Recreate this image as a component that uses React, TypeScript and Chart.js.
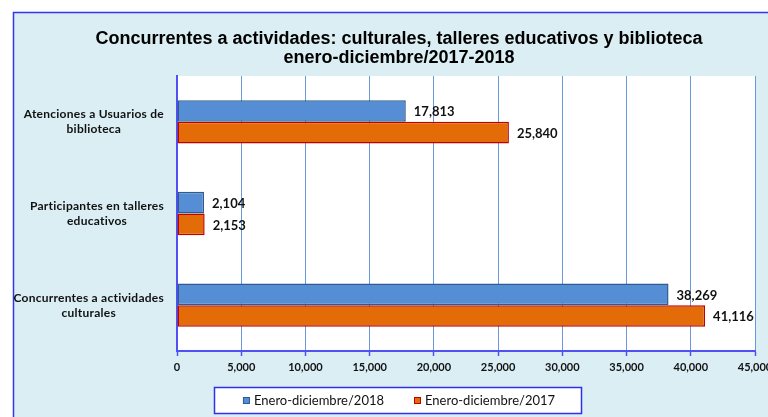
import { useEffect, useRef } from "react";
import { Chart, registerables } from "chart.js";

Chart.register(...registerables);

const titleLines = [
  "Concurrentes a actividades: culturales, talleres educativos y biblioteca",
  "enero-diciembre/2017-2018",
];
const categories = [
  ["Atenciones a Usuarios de", "biblioteca"],
  ["Participantes en talleres", "educativos"],
  ["Concurrentes a actividades", "culturales"],
];
const seriesNames = ["Enero-diciembre/2018", "Enero-diciembre/2017"];
const values2018 = [17813, 2104, 38269];
const values2017 = [25840, 2153, 41116];
const xMin = 0;
const xMax = 45000;
const xStep = 5000;

const W = 768;
const H = 417;
const BLUE = "#558ED5";
const BLUE_BORDER = "#2E5C8F";
const ORANGE = "#E36C09";
const ORANGE_BORDER = "#C00000";
const AXIS = "#5050F5";

const fmt = (v: number) => v.toLocaleString("en-US");

const decor = {
  id: "decor",
  beforeDraw(chart: any) {
    const { ctx, chartArea: a } = chart;
    ctx.save();
    ctx.fillStyle = "#ffffff";
    ctx.fillRect(0, 0, W, H);
    ctx.fillStyle = "#DAEEF3";
    ctx.fillRect(13, 12, W - 13, H - 12);
    ctx.strokeStyle = "#3535F0";
    ctx.lineWidth = 1.5;
    ctx.beginPath();
    ctx.moveTo(13.5, H);
    ctx.lineTo(13.5, 12.5);
    ctx.lineTo(W, 12.5);
    ctx.stroke();
    ctx.fillStyle = "#ffffff";
    ctx.fillRect(a.left, a.top, a.right - a.left, a.bottom - a.top);
    ctx.restore();
  },
  afterDatasetsDraw(chart: any) {
    const { ctx } = chart;
    ctx.save();
    ctx.font = 'bold 13px "Lato"';
    ctx.fillStyle = "#111111";
    ctx.textAlign = "left";
    ctx.textBaseline = "middle";
    chart.data.datasets.forEach((ds: any, di: number) => {
      const meta = chart.getDatasetMeta(di);
      meta.data.forEach((el: any, i: number) => {
        ctx.fillText(fmt(ds.data[i]), el.x + 8, el.y + 1);
      });
    });
    ctx.restore();
  },
  afterDraw(chart: any) {
    const { ctx } = chart;
    ctx.save();
    // title
    ctx.font = 'bold 18px "Liberation Sans"';
    ctx.fillStyle = "#000000";
    ctx.textAlign = "center";
    ctx.textBaseline = "alphabetic";
    ctx.fillText(titleLines[0], 399, 44);
    ctx.fillText(titleLines[1], 399, 63);

    // category labels
    const ys = chart.scales.y;
    ctx.font = 'bold 12px "Lato"';
    try {
      (ctx as any).letterSpacing = "0.25px";
    } catch (e) {}
    ctx.textBaseline = "middle";
    ctx.fillStyle = "#111111";
    categories.forEach((lines, i) => {
      const cy = ys.getPixelForValue(i);
      const bw = Math.max(...lines.map((l) => ctx.measureText(l).width));
      const cx = 164 - bw / 2;
      const lh = 15;
      lines.forEach((l, k) => {
        ctx.fillText(l, cx, cy + (k - (lines.length - 1) / 2) * lh);
      });
    });
    try {
      (ctx as any).letterSpacing = "0px";
    } catch (e) {}

    // legend
    const bx = 214.5, by = 387.5, bw = 367, bh = 26;
    ctx.fillStyle = "#ffffff";
    ctx.fillRect(bx, by, bw, bh);
    ctx.strokeStyle = "#2F2FF0";
    ctx.lineWidth = 1.5;
    ctx.strokeRect(bx, by, bw, bh);
    ctx.font = '13px "Lato"';
    ctx.textAlign = "left";
    const cy = by + bh / 2 + 0.5;
    const fills = [BLUE, ORANGE];
    const borders = [BLUE_BORDER, ORANGE_BORDER];
    const w0 = ctx.measureText(seriesNames[0]).width;
    const w1 = ctx.measureText(seriesNames[1]).width;
    const gap = 30;
    const total = 7 + 4 + w0 + gap + 7 + 4 + w1;
    let x = bx + bw / 2 - total / 2 + 1;
    [w0, w1].forEach((w, i) => {
      ctx.fillStyle = fills[i];
      ctx.fillRect(x, cy - 4, 7, 7);
      ctx.strokeStyle = borders[i];
      ctx.lineWidth = 1;
      ctx.strokeRect(x + 0.5, cy - 3.5, 6, 6);
      ctx.fillStyle = "#111111";
      ctx.fillText(seriesNames[i], x + 11, cy);
      x += 11 + w + gap;
    });
    ctx.restore();
  },
};

export default function App() {
  const ref = useRef<HTMLCanvasElement | null>(null);
  useEffect(() => {
    if (!ref.current) return;
    const chart = new Chart(ref.current, {
      type: "bar",
      data: {
        labels: categories as any,
        datasets: [
          {
            label: seriesNames[0],
            data: values2018,
            backgroundColor: BLUE,
            borderColor: BLUE_BORDER,
            borderWidth: 1.5,
            borderSkipped: false,
            categoryPercentage: 0.473,
            barPercentage: 1,
          },
          {
            label: seriesNames[1],
            data: values2017,
            backgroundColor: ORANGE,
            borderColor: ORANGE_BORDER,
            borderWidth: 1.5,
            borderSkipped: false,
            categoryPercentage: 0.473,
            barPercentage: 1,
          },
        ],
      },
      plugins: [decor],
      options: {
        indexAxis: "y",
        responsive: false,
        animation: false,
        devicePixelRatio: 1,
        layout: { padding: { top: 76, left: 13, right: 13, bottom: 36 } },
        plugins: {
          legend: { display: false },
          title: { display: false },
          tooltip: { enabled: false },
        },
        scales: {
          x: {
            type: "linear",
            position: "bottom",
            min: xMin,
            max: xMax,
            ticks: {
              stepSize: xStep,
              callback: (v: any) => fmt(Number(v)),
              font: { family: "Lato", size: 11, weight: "bold" },
              color: "#111111",
              padding: 5,
              maxRotation: 0,
              autoSkip: false,
            },
            grid: {
              color: "#6A98DC",
              lineWidth: 1,
              drawTicks: true,
              tickLength: 5,
              tickColor: AXIS,
              tickWidth: 1.5,
            },
            border: { display: true, color: AXIS, width: 2 },
            afterFit: (s: any) => {
              s.height = 30;
              s.paddingLeft = 0;
              s.paddingRight = 0;
            },
          },
          y: {
            type: "category",
            ticks: { display: false },
            grid: { display: false },
            border: { display: true, color: AXIS, width: 2 },
            afterFit: (s: any) => {
              s.width = 164;
              s.paddingTop = 0;
              s.paddingBottom = 0;
            },
          },
        },
      } as any,
    });
    return () => chart.destroy();
  }, []);
  return (
    <div style={{ position: "fixed", left: 0, top: 0, width: W, height: H }}>
      <canvas ref={ref} width={W} height={H} style={{ width: W, height: H, display: "block" }} />
    </div>
  );
}
